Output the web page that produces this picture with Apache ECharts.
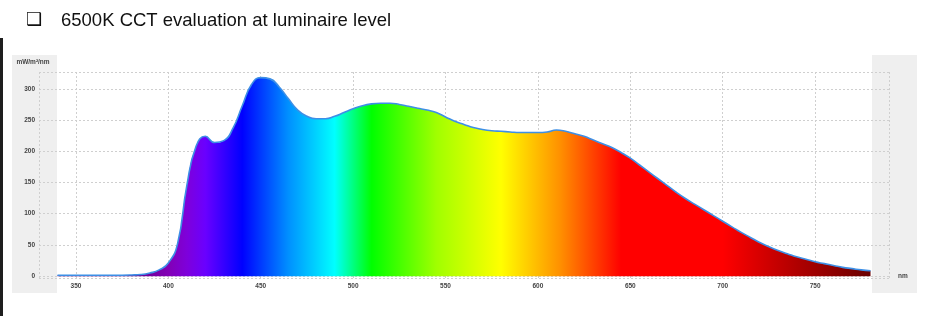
<!DOCTYPE html>
<html>
<head>
<meta charset="utf-8">
<script src="https://cdn.jsdelivr.net/npm/echarts@6/dist/echarts.min.js"></script>
<style>
html,body{margin:0;padding:0;background:#fff;}
#c{width:933px;height:316px;}
</style>
</head>
<body>
<div id="c"></div>
<script>
// Wavelengths (nm)
const wavelengths = [
  340,345,350,355,360,365,370,375,380,385,
  390,395,400,405,410,415,420,425,430,435,
  440,445,450,455,460,465,470,475,480,485,
  490,495,500,505,510,515,520,525,530,535,
  540,545,550,555,560,565,570,575,580,585,
  590,595,600,605,610,615,620,625,630,635,
  640,645,650,655,660,665,670,675,680,685,
  690,695,700,705,710,715,720,725,730,735,
  740,745,750,755,760,765,770,775,780
];
// Spectral irradiance (mW/m²/nm)
const irradiance = [
  1.5,1.5,1.5,1.5,1.5,1.5,1.5,1.5,1.8,2.5,
  5,10,21,52,145,208,224,214,217,237,
  273,307,318,316,303,284,266,256,252,252,
  256,262,268,273,276,277,277,275,272,269,
  266,262,255,248,243,238,235,233,232,231,
  230,230,230,231,234,232,228,224,218,212,
  206,198,189,178,167,156,145,134,124,115,
  106,97,88,79,70,62,54,47,41,36,
  31,27,23,20,17,14,12,10,8.5
];
const titleText = '6500K CCT evaluation at luminaire level';
const yUnit = 'mW/m²/nm';
const xUnit = 'nm';

// spectrum colour stops: [wavelength, colour]
const spectrumStops = [
  [340,'#5a0080'],[380,'#66008c'],[400,'#8200b5'],[410,'#7e00db'],[420,'#6a00ff'],
  [440,'#0000ff'],[465,'#0090ff'],[490,'#00ffff'],[510,'#00ff00'],
  [545,'#a0ff00'],[580,'#ffff00'],[612,'#ff9000'],[645,'#ff0000'],[700,'#ff0000'],
  [740,'#b00000'],[780,'#6a0000']
];

const wMin = wavelengths[0], wMax = wavelengths[wavelengths.length-1];
const stops = spectrumStops.map(s => ({offset:(s[0]-wMin)/(wMax-wMin), color:s[1]}));
const seriesData = wavelengths.map((w,i)=>[w, irradiance[i]]);

const chart = echarts.init(document.getElementById('c'), null, {renderer:'canvas'});
const gridLine = {show:true, lineStyle:{color:'#cfcfcf', type:[2,2], width:1}};
const labelStyle = {color:'#444', fontSize:6.5, fontWeight:'bold', fontFamily:'Liberation Sans, Arial, sans-serif'};

chart.setOption({
  animation:false,
  backgroundColor:'#fff',
  title:{
    left:21, top:6,
    text:'{b|❑}{t|' + titleText + '}',
    textStyle:{
      fontWeight:'normal',
      rich:{
        b:{fontFamily:'DejaVu Sans', fontSize:18, fontWeight:'normal', color:'#111', width:35},
        t:{fontFamily:'Liberation Sans, Arial, sans-serif', fontSize:18.5, fontWeight:'normal', color:'#111'}
      }
    }
  },
  graphic:[
    {type:'rect', z:-10, shape:{x:0,y:38,width:3,height:278}, style:{fill:'#1e1e1e'}},
    {type:'rect', z:-10, shape:{x:12,y:55,width:45,height:238}, style:{fill:'#efefef'}},
    {type:'rect', z:-10, shape:{x:872,y:55,width:45,height:238}, style:{fill:'#efefef'}}
  ],
  grid:{left:39, top:72, width:850, height:206, containLabel:false},
  xAxis:{
    type:'value', min:330, max:790, splitNumber:9,
    name:xUnit, nameLocation:'end', nameGap:9,
    nameTextStyle:{color:'#444', fontSize:6.5, fontWeight:'bold', fontFamily:'Liberation Sans, Arial, sans-serif', padding:[16,0,0,0]},
    axisLine:{show:false}, axisTick:{show:false},
    axisLabel:Object.assign({margin:5, showMinLabel:false, showMaxLabel:false}, labelStyle),
    splitLine:gridLine
  },
  yAxis:{
    type:'value', min:-3, max:327, splitNumber:7,
    name:yUnit, nameLocation:'end', nameGap:6,
    nameTextStyle:{color:'#444', fontSize:6.5, fontWeight:'bold', fontFamily:'Liberation Sans, Arial, sans-serif', align:'center', padding:[0,12,0,0]},
    axisLine:{show:false}, axisTick:{show:false},
    axisLabel:Object.assign({margin:4, showMinLabel:false, showMaxLabel:false}, labelStyle),
    splitLine:gridLine
  },
  series:[{
    type:'line',
    data:seriesData,
    smooth:0.5,
    symbol:'none',
    lineStyle:{color:'#3d8fe6', width:1.6},
    areaStyle:{opacity:1, color:new echarts.graphic.LinearGradient(0,0,1,0,stops)},
    z:3
  }]
});
</script>
</body>
</html>
